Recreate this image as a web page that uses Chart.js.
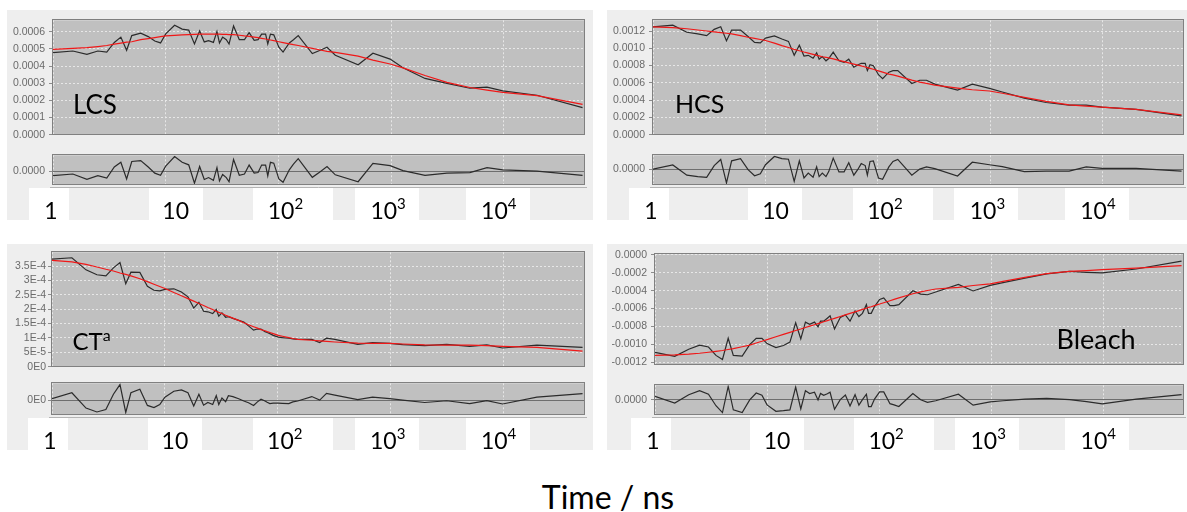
<!DOCTYPE html>
<html><head><meta charset="utf-8">
<script src="https://cdn.jsdelivr.net/npm/chart.js@4.4.1/dist/chart.umd.min.js"></script>
<style>
html,body{margin:0;padding:0;background:#fff;}
#root{position:relative;width:1187px;height:512px;overflow:hidden;font-family:Lato,'Open Sans',sans-serif;}
.panel{position:absolute;background:#eeeeee;}
.panel canvas{position:absolute;left:0;}
.xbox{position:absolute;background:#ffffff;height:32px;}
.xlab{position:absolute;font-size:23px;line-height:23px;color:#000;white-space:nowrap;transform:translateX(-50%);}
.xlab sup{font-size:15px;line-height:15px;vertical-align:baseline;position:relative;top:-9.5px;}
.note{position:absolute;color:#000;white-space:nowrap;}
.note sup{vertical-align:baseline;position:relative;}
</style></head><body><div id="root"></div>
<script>
// ---- shared time axis (ns) ----
const times = [1,1.5,2,2.5,3,3.5,4,4.5,5, 6,7,8,9,10, 12,14,16,18,20, 22,24,26.5,28.5,30, 32,34.5,36.5,40,45, 50,55,61,66,71, 77,80.5,85,91,101, 110,125,136,150,200, 235,270,320,510,690, 980,1275,2000,3130,5000, 7100,9800,19700,50000];
const decadeTicks = [1,10,100,1000,10000];
const decadeBase = ['1','10','10','10','10'];
const decadeExp  = ['','','2','3','4'];

// ---- LCS ----
const lcsSignal = [4.79e-4,4.88e-4,4.69e-4,4.88e-4,4.82e-4,5.38e-4,5.69e-4,4.92e-4,5.78e-4, 5.92e-4,5.72e-4,5.46e-4,5.35e-4,5.88e-4, 6.38e-4,6.16e-4,6.10e-4,5.29e-4,6.05e-4, 5.41e-4,5.48e-4,5.38e-4,6.01e-4,5.35e-4, 5.69e-4,5.54e-4,5.29e-4,6.34e-4,5.54e-4, 5.54e-4,5.95e-4,5.50e-4,5.54e-4,5.86e-4, 5.86e-4,5.29e-4,5.86e-4,5.82e-4,5.10e-4, 4.82e-4,5.35e-4,5.54e-4,5.78e-4,4.73e-4, 4.92e-4,5.10e-4,4.63e-4,4.08e-4,4.75e-4, 4.41e-4,3.90e-4,3.28e-4,2.99e-4,2.71e-4, 2.77e-4,2.56e-4,2.30e-4,1.58e-4];
const lcsFit = [4.97e-4,5.03e-4,5.08e-4,5.14e-4,5.20e-4,5.28e-4,5.34e-4,5.40e-4,5.42e-4, 5.54e-4,5.60e-4,5.66e-4,5.72e-4,5.76e-4, 5.79e-4,5.82e-4,5.84e-4,5.85e-4,5.86e-4, 5.86e-4,5.86e-4,5.86e-4,5.86e-4,5.86e-4, 5.85e-4,5.85e-4,5.84e-4,5.83e-4,5.80e-4, 5.76e-4,5.73e-4,5.69e-4,5.66e-4,5.62e-4, 5.58e-4,5.55e-4,5.52e-4,5.48e-4,5.42e-4, 5.37e-4,5.30e-4,5.25e-4,5.20e-4,5.03e-4, 4.94e-4,4.86e-4,4.80e-4,4.58e-4,4.35e-4, 4.12e-4,3.90e-4,3.45e-4,3.05e-4,2.75e-4, 2.60e-4,2.47e-4,2.28e-4,1.77e-4];
const lcsResidual = [-1.84e-5,-1.16e-5,-3.30e-5,-1.84e-5,-2.86e-5,1.70e-5,3.60e-5,-3.20e-5,3.94e-5, 4.28e-5,1.70e-5,-0.82e-5,-1.70e-5,2.04e-5, 5.98e-5,3.60e-5,2.58e-5,-4.90e-5,1.90e-5, -3.40e-5,-2.62e-5,-3.74e-5,1.46e-5,-3.98e-5, -1.36e-5,-2.62e-5,-4.32e-5,4.76e-5,-1.70e-5, -1.16e-5,2.48e-5,-0.82e-5,-0.58e-5,2.48e-5, 2.48e-5,-1.94e-5,3.60e-5,3.26e-5,-3.20e-5, -4.56e-5,0.54e-5,2.82e-5,5.10e-5,-2.52e-5, -0.24e-5,1.90e-5,-1.50e-5,-4.32e-5,3.16e-5, 2.24e-5,0.20e-5,-1.70e-5,-0.82e-5,-0.58e-5, 1.46e-5,0.54e-5,0,-1.70e-5];
const lcsYTicks = [0,1e-4,2e-4,3e-4,4e-4,5e-4,6e-4];
const lcsYLabels = ['0.0000','0.0001','0.0002','0.0003','0.0004','0.0005','0.0006'];

// ---- HCS ----
const hcsSignal = [12.49e-4,12.68e-4,11.86e-4,11.66e-4,11.47e-4,12.19e-4,12.49e-4,10.88e-4,12.11e-4, 12.11e-4,11.36e-4,10.69e-4,10.62e-4,11.18e-4, 11.44e-4,11.07e-4,10.80e-4,9.19e-4,10.35e-4, 9.11e-4,9.19e-4,8.85e-4,9.49e-4,8.74e-4, 9.04e-4,8.55e-4,8.82e-4,9.56e-4,8.55e-4, 8.37e-4,8.74e-4,7.81e-4,8.07e-4,8.26e-4, 8.26e-4,7.42e-4,8.10e-4,7.99e-4,6.94e-4, 6.49e-4,7.24e-4,7.42e-4,7.42e-4,5.93e-4, 6.30e-4,6.30e-4,5.85e-4,5.17e-4,5.85e-4, 5.37e-4,4.94e-4,4.24e-4,3.73e-4,3.42e-4, 3.42e-4,3.19e-4,2.92e-4,2.18e-4];
const hcsFit = [12.49e-4,12.40e-4,12.26e-4,12.12e-4,12.00e-4,11.91e-4,11.82e-4,11.74e-4,11.66e-4, 11.47e-4,11.28e-4,11.15e-4,11.02e-4,10.90e-4, 10.59e-4,10.31e-4,10.09e-4,9.87e-4,9.72e-4, 9.57e-4,9.45e-4,9.30e-4,9.19e-4,9.12e-4, 9.02e-4,8.96e-4,8.90e-4,8.77e-4,8.60e-4, 8.46e-4,8.31e-4,8.17e-4,8.06e-4,7.96e-4, 7.84e-4,7.77e-4,7.68e-4,7.57e-4,7.39e-4, 7.24e-4,7.02e-4,6.92e-4,6.77e-4,6.31e-4, 6.09e-4,5.93e-4,5.74e-4,5.39e-4,5.20e-4, 5.06e-4,4.80e-4,4.32e-4,3.85e-4,3.46e-4, 3.30e-4,3.18e-4,2.93e-4,2.30e-4];
const hcsResidual = [0,2.75e-5,-4.02e-5,-4.95e-5,-5.5e-5,2.37e-5,6.44e-5,-9.19e-5,5.5e-5, 6.99e-5,-0.39e-5,-4.4e-5,-3.14e-5,2.92e-5, 8.42e-5,6.99e-5,6.6e-5,-8.09e-5,5.5e-5, -5.89e-5,-2.59e-5,-5.34e-5,1.49e-5,-4.95e-5, -2.59e-5,-4.95e-5,-1.65e-5,7.32e-5,-1.82e-5, -1.82e-5,4.24e-5,-4.02e-5,-0.39e-5,3.69e-5, 2.37e-5,-4.02e-5,5.12e-5,5.5e-5,-5.89e-5, -6.77e-5,1.49e-5,5.12e-5,6.44e-5,-4.02e-5, 0,1.49e-5,0.28e-5,-4.57e-5,4.57e-5, 2.92e-5,1.65e-5,-1.65e-5,-1.38e-5,-1.27e-5, 1.49e-5,0.55e-5,0.55e-5,-1.27e-5];
const hcsYTicks = [0,2e-4,4e-4,6e-4,8e-4,10e-4,12e-4];
const hcsYLabels = ['0.0000','0.0002','0.0004','0.0006','0.0008','0.0010','0.0012'];

// ---- CT ----
const ctSignal = [3.74e-4,3.79e-4,3.37e-4,3.20e-4,3.16e-4,3.44e-4,3.62e-4,2.89e-4,3.29e-4, 3.28e-4,2.80e-4,2.66e-4,2.64e-4,2.69e-4, 2.71e-4,2.60e-4,2.43e-4,2.04e-4,2.24e-4, 1.93e-4,1.91e-4,1.85e-4,1.99e-4,1.76e-4, 1.87e-4,1.72e-4,1.74e-4,1.68e-4,1.61e-4, 1.55e-4,1.42e-4,1.27e-4,1.31e-4,1.31e-4, 1.22e-4,1.19e-4,1.15e-4,1.09e-4,1.03e-4, 1.01e-4,0.99e-4,0.97e-4,0.95e-4,0.95e-4, 0.84e-4,0.99e-4,0.95e-4,0.78e-4,0.84e-4, 0.81e-4,0.77e-4,0.73e-4,0.78e-4,0.71e-4, 0.76e-4,0.65e-4,0.75e-4,0.67e-4];
const ctFit = [3.70e-4,3.65e-4,3.56e-4,3.47e-4,3.39e-4,3.33e-4,3.26e-4,3.21e-4,3.16e-4, 3.06e-4,2.96e-4,2.87e-4,2.79e-4,2.72e-4, 2.58e-4,2.47e-4,2.37e-4,2.28e-4,2.20e-4, 2.13e-4,2.06e-4,1.99e-4,1.93e-4,1.89e-4, 1.85e-4,1.79e-4,1.75e-4,1.69e-4,1.61e-4, 1.53e-4,1.46e-4,1.39e-4,1.34e-4,1.29e-4, 1.25e-4,1.22e-4,1.19e-4,1.15e-4,1.09e-4, 1.06e-4,1.01e-4,0.98e-4,0.95e-4,0.92e-4, 0.90e-4,0.88e-4,0.86e-4,0.82e-4,0.81e-4, 0.81e-4,0.79e-4,0.76e-4,0.75e-4,0.75e-4, 0.73e-4,0.71e-4,0.67e-4,0.54e-4];
const ctResidual = [0.54e-5,2.82e-5,-3.06e-5,-4.56e-5,-3.64e-5,2.24e-5,5.98e-5,-4.76e-5,2.82e-5, 4.18e-5,-2.04e-5,-2.86e-5,-1.70e-5,1.12e-5, 3.40e-5,3.94e-5,2.82e-5,-2.28e-5,2.24e-5, -1.94e-5,-0.92e-5,-1.70e-5,1.70e-5,-1.70e-5, 0.78e-5,-0.58e-5,1.70e-5,1.36e-5,0.54e-5, -0.34e-5,-1.02e-5,-2.04e-5,-0.68e-5,0.34e-5, -0.34e-5,-0.85e-5,-1.36e-5,-1.19e-5,-1.16e-5, -1.26e-5,-1.36e-5,-0.68e-5,-0.34e-5,1.36e-5, 0,2.58e-5,1.90e-5,0.20e-5,1.12e-5, 0.54e-5,0,-0.92e-5,-0.24e-5,-1.36e-5, -0.24e-5,-1.50e-5,1.12e-5,2.48e-5];
const ctYTicks = [0,0.5e-4,1e-4,1.5e-4,2e-4,2.5e-4,3e-4,3.5e-4];
const ctYLabels = ['0E0','5E-5','1E-4','1.5E-4','2E-4','2.5E-4','3E-4','3.5E-4'];

// ---- Bleach ----
const bleachSignal = [-10.88e-4,-11.33e-4,-10.54e-4,-10.08e-4,-10.29e-4,-11.23e-4,-11.69e-4,-9.32e-4,-11.23e-4, -11.30e-4,-10.02e-4,-9.32e-4,-9.32e-4,-9.91e-4, -10.36e-4,-10.12e-4,-9.74e-4,-7.58e-4,-9.39e-4, -7.51e-4,-7.75e-4,-7.51e-4,-8.04e-4,-7.41e-4, -7.41e-4,-7.07e-4,-6.81e-4,-8.28e-4,-6.99e-4, -6.71e-4,-7.41e-4,-6.26e-4,-6.89e-4,-6.53e-4, -5.56e-4,-6.53e-4,-6.53e-4,-5.77e-4,-4.97e-4, -4.80e-4,-5.67e-4,-5.67e-4,-5.56e-4,-4.00e-4, -4.38e-4,-4.45e-4,-4.14e-4,-3.30e-4,-4.03e-4, -3.40e-4,-3.09e-4,-2.59e-4,-2.12e-4,-1.84e-4, -1.94e-4,-2.01e-4,-1.57e-4,-0.69e-4];
const bleachFit = [-11.23e-4,-11.18e-4,-11.09e-4,-10.99e-4,-10.88e-4,-10.78e-4,-10.68e-4,-10.57e-4,-10.47e-4, -10.26e-4,-10.08e-4,-9.84e-4,-9.65e-4,-9.46e-4, -9.15e-4,-8.88e-4,-8.65e-4,-8.45e-4,-8.28e-4, -8.11e-4,-7.96e-4,-7.80e-4,-7.68e-4,-7.59e-4, -7.47e-4,-7.35e-4,-7.25e-4,-7.09e-4,-6.88e-4, -6.70e-4,-6.53e-4,-6.36e-4,-6.22e-4,-6.09e-4, -5.96e-4,-5.87e-4,-5.79e-4,-5.67e-4,-5.49e-4, -5.34e-4,-5.12e-4,-4.97e-4,-4.80e-4,-4.34e-4, -4.13e-4,-3.98e-4,-3.81e-4,-3.63e-4,-3.42e-4, -3.23e-4,-2.95e-4,-2.50e-4,-2.09e-4,-1.83e-4, -1.75e-4,-1.65e-4,-1.47e-4,-1.20e-4];
const bleachResidual = [2.80e-5,-2.41e-5,4.10e-5,7.35e-5,4.55e-5,-4.55e-5,-9.95e-5,10.6e-5,-7.8e-5, -9.95e-5,0,5.40e-5,3.64e-5,-3.9e-5, -8.97e-5,-8.45e-5,-7.8e-5,10.14e-5,-7.02e-5, 7.28e-5,5.07e-5,6.05e-5,0,5.07e-5, 3.58e-5,4.88e-5,6.05e-5,-7.35e-5,0.26e-5, 3.9e-5,-4.75e-5,4.16e-5,-4.1e-5,0.26e-5, 4.55e-5,-5.2e-5,-5.2e-5,0.65e-5,6.31e-5, 6.31e-5,-2.93e-5,-3.9e-5,-5.2e-5,5.0e-5, 0.2e-5,-1.95e-5,-0.65e-5,4.55e-5,-4.1e-5, -1.5e-5,-0.65e-5,0.65e-5,1.3e-5,0.2e-5, -1.3e-5,-3.06e-5,0.65e-5,4.1e-5];
const bleachYTicks = [-12e-4,-10e-4,-8e-4,-6e-4,-4e-4,-2e-4,0];
const bleachYLabels = ['-0.0012','-0.0010','-0.0008','-0.0006','-0.0004','-0.0002','0.0000'];

// ---- layout / style (page pixels) ----
const panels = [
  {box:[7,10,586,210], plotX:[53,584], main:[20,138], res:[149,184], signal:lcsSignal, fit:lcsFit, residual:lcsResidual,
   yRange:[0,6.67e-4], yTicks:lcsYTicks, yLabels:lcsYLabels, rRange:[-5.24e-5,6.46e-5], rLabel:'0.0000', labPad:4,
   note:{html:'LCS', left:73, base:114, size:26}},
  {box:[607,10,580,210], plotX:[653,1183], main:[20,138], res:[149,184], signal:hcsSignal, fit:hcsFit, residual:hcsResidual,
   yRange:[0,13.24e-4], yTicks:hcsYTicks, yLabels:hcsYLabels, rRange:[-9.9e-5,9.2e-5], rLabel:'0.0000', labPad:4,
   note:{html:'HCS', left:675, base:113.5, size:25}},
  {box:[7,244,586,206], plotX:[52,584], main:[250,368], res:[379,414], signal:ctSignal, fit:ctFit, residual:ctResidual,
   yRange:[0,3.98e-4], yTicks:ctYTicks, yLabels:ctYLabels, rRange:[-5.34e-5,6.46e-5], rLabel:'0E0', labPad:2,
   note:{html:'CT<sup style="font-size:16px;top:-9px">a</sup>', left:72.5, base:350, size:24}},
  {box:[607,244,580,206], plotX:[655,1183], main:[250,368], res:[379,414], signal:bleachSignal, fit:bleachFit, residual:bleachResidual,
   yRange:[-12.27e-4,0.07e-4], yTicks:bleachYTicks, yLabels:bleachYLabels, rRange:[-11.05e-5,11.5e-5], rLabel:'0.0000', labPad:4,
   note:{html:'Bleach', left:1056.5, base:349.3, size:27}}
];
const labelBoxes = [{l:-24,w:40,c:-2},{l:-17,w:54,c:10},{l:-25,w:80,c:7},{l:-36,w:64,c:-3},{l:-38,w:64,c:-5}];

Chart.defaults.font.family = "'Liberation Sans', Arial, sans-serif";

const plotFrame = {
  id:'plotFrame',
  beforeDraw(chart){
    const a = chart.chartArea, c = chart.ctx;
    c.save(); c.fillStyle = '#c0c0c0';
    c.fillRect(a.left, a.top, a.right-a.left, a.bottom-a.top); c.restore();
  },
  afterDraw(chart, args, opts){
    const a = chart.chartArea, c = chart.ctx;
    c.save();
    c.strokeStyle = '#808080'; c.lineWidth = 1;
    c.strokeRect(Math.round(a.left)-0.5, Math.round(a.top)-0.5, Math.round(a.right-a.left)+1, Math.round(a.bottom-a.top)+1);
    if (opts && opts.axisLine) {
      const y = Math.round(a.bottom)+3.5;
      c.strokeStyle = '#b4b4b4';
      c.beginPath(); c.moveTo(a.left-3, y); c.lineTo(a.right+3, y); c.stroke();
      decadeTicks.forEach(v => {
        const x = Math.round(chart.scales.x.getPixelForValue(v))+0.5;
        c.beginPath(); c.moveTo(x, y); c.lineTo(x, y+2); c.stroke();
      });
    }
    c.restore();
  }
};

function series(values){ return times.map((t,i)=>({x:t, y:values[i]})); }

function chartConfig(o){
  return {
    type:'line',
    data:{datasets:o.datasets},
    options:{
      responsive:false, animation:false, devicePixelRatio:1, events:[],
      layout:{padding:{left:0, right:o.padR, top:o.padT, bottom:o.padB}},
      plugins:{legend:{display:false}, tooltip:{enabled:false}, plotFrame:{axisLine:o.axisLine}},
      elements:{point:{radius:0}, line:{tension:0}},
      scales:{
        x:{type:'logarithmic', min:1, max:51500, position:'bottom',
           afterBuildTicks:s=>{ s.ticks = decadeTicks.map(v=>({value:v})); },
           afterFit:s=>{ s.height = 0; },
           ticks:{display:false},
           grid:{display:true, drawTicks:false, color:'rgba(235,235,235,0.9)', lineWidth:1, borderDash:[2,2]},
           border:{display:false, dash:[2,2]}},
        y:{type:'linear', min:o.yMin, max:o.yMax, position:'left',
           afterBuildTicks:s=>{ s.ticks = o.yTicks.map(v=>({value:v})); },
           afterFit:s=>{ s.width = o.axisW; },
           ticks:{callback:(v,i)=>o.yLabels[i], color:'#6b6b6b', font:{size:10.5}, padding:o.labPad, autoSkip:false, maxRotation:0},
           grid:{color:o.gridColor, tickColor:'#8c8c8c', tickLength:4, drawTicks:true, lineWidth:1, borderDash:o.gridDash},
           border:{display:false, dash:o.gridDash}}
      }
    },
    plugins:[plotFrame]
  };
}

const root = document.getElementById('root');
function mkCanvas(parent, top, w, h){
  const cv = document.createElement('canvas');
  cv.width = w; cv.height = h;
  cv.style.width = w+'px'; cv.style.height = h+'px'; cv.style.top = top+'px';
  parent.appendChild(cv);
  return cv;
}

panels.forEach(p => {
  const [bx,by,bw,bh] = p.box;
  const div = document.createElement('div');
  div.className = 'panel';
  Object.assign(div.style,{left:bx+'px', top:by+'px', width:bw+'px', height:bh+'px'});
  root.appendChild(div);
  const axisW = p.plotX[0]-bx, padR = bw-(p.plotX[1]-bx);

  const mainH = p.main[1]-by+7;
  const c1 = mkCanvas(div, 0, bw, mainH);
  new Chart(c1, chartConfig({
    datasets:[
      {data:series(p.fit), borderColor:'#f01818', borderWidth:1.2},
      {data:series(p.signal), borderColor:'#2b2b2b', borderWidth:1.2}
    ],
    padR, padT:p.main[0]-by, padB:7, axisW, axisLine:false,
    yMin:p.yRange[0], yMax:p.yRange[1], yTicks:p.yTicks, yLabels:p.yLabels,
    labPad:p.labPad, gridColor:'rgba(235,235,235,0.9)', gridDash:[2,2]
  }));

  const rTop = p.res[0]-4-by, rH = bh-rTop;
  const c2 = mkCanvas(div, rTop, bw, rH);
  const rc = new Chart(c2, chartConfig({
    datasets:[{data:series(p.residual), borderColor:'#2b2b2b', borderWidth:1.2}],
    padR, padT:4, padB:rH-(p.res[1]-p.res[0]+4), axisW, axisLine:true,
    yMin:p.rRange[0], yMax:p.rRange[1], yTicks:[0], yLabels:[p.rLabel],
    labPad:p.labPad, gridColor:'#6e6e6e', gridDash:[]
  }));

  decadeTicks.forEach((v,i) => {
    const px = rc.scales.x.getPixelForValue(v);
    const lb = labelBoxes[i];
    const box = document.createElement('div');
    box.className = 'xbox';
    Object.assign(box.style,{left:(px+lb.l)+'px', width:lb.w+'px', top:(bh-32)+'px'});
    div.appendChild(box);
    const t = document.createElement('div');
    t.className = 'xlab';
    t.innerHTML = decadeBase[i] + (decadeExp[i] ? '<sup>'+decadeExp[i]+'</sup>' : '');
    Object.assign(t.style,{left:(px+lb.c)+'px', top:(bh-32+10.6)+'px'});
    div.appendChild(t);
  });

  const n = document.createElement('div');
  n.className = 'note';
  n.innerHTML = p.note.html;
  Object.assign(n.style,{left:p.note.left+'px', top:(p.note.base-0.887*p.note.size)+'px', fontSize:p.note.size+'px', lineHeight:p.note.size+'px'});
  root.appendChild(n);
});

const xt = document.createElement('div');
xt.className = 'note';
xt.textContent = 'Time / ns';
Object.assign(xt.style,{left:'608px', top:(509-0.887*32)+'px', fontSize:'32px', lineHeight:'32px', transform:'translateX(-50%)'});
root.appendChild(xt);
</script>
</body></html>
